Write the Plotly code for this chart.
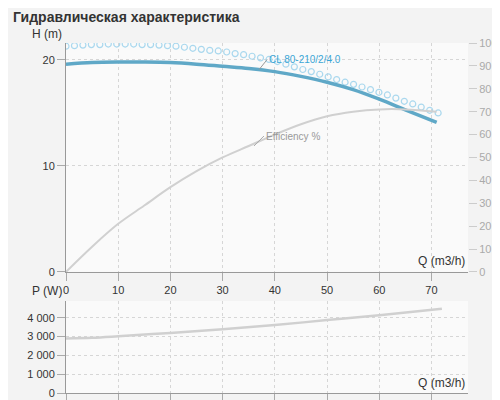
import plotly.graph_objects as go
import numpy as np

Q = [0, 5, 10, 15, 20, 25, 30, 35, 40, 45, 50, 55, 60, 65, 71]
head = [19.6, 19.75, 19.8, 19.8, 19.75, 19.6, 19.4, 19.2, 18.9, 18.45, 17.9, 17.2, 16.3, 15.3, 14.1]
eff = [0, 11, 21, 29, 37, 44, 50, 55, 60, 64.5, 68, 70, 71, 71, 70]
Q_pw = [0, 5, 10, 20, 30, 40, 50, 60, 72]
power = [2900, 2940, 3020, 3200, 3400, 3620, 3880, 4140, 4480]
Q_dot = list(np.arange(0, 71.5, 1.62))
dots = [21.3, 21.35, 21.4, 21.45, 21.45, 21.5, 21.5, 21.5, 21.5, 21.45, 21.45, 21.4, 21.35,
        21.3, 21.2, 21.1, 21.0, 20.9, 20.85, 20.75, 20.6, 20.5, 20.35, 20.2, 20.05, 19.85,
        19.6, 19.35, 19.1, 18.9, 18.65, 18.4, 18.15, 17.9, 17.7, 17.45, 17.2, 16.95, 16.7,
        16.4, 16.1, 15.85, 15.55, 15.25, 15.0]
dots = dots[:len(Q_dot)]

GRID = "#d6d6d6"
AX = dict(showgrid=True, gridcolor=GRID, griddash="dot", zeroline=False, automargin=False,
          ticks="outside", ticklen=8, tickcolor="#aaa", tickfont=dict(size=11, color="#333"))

fig = go.Figure()
fig.add_trace(go.Scatter(x=Q_dot, y=dots, mode="markers", xaxis="x", yaxis="y",
                         marker=dict(symbol="circle-open", size=6, color="#aad8ee", line=dict(width=1.2))))
fig.add_trace(go.Scatter(x=Q, y=eff, mode="lines", xaxis="x", yaxis="y2",
                         line=dict(color="#d0d0d0", width=2, shape="spline")))
fig.add_trace(go.Scatter(x=Q, y=head, mode="lines", xaxis="x", yaxis="y",
                         line=dict(color="#5fa8c7", width=3.5, shape="spline")))
fig.add_trace(go.Scatter(x=Q_pw, y=power, mode="lines", xaxis="x2", yaxis="y3",
                         line=dict(color="#d0d0d0", width=2.5, shape="spline")))

fig.update_layout(
    width=500, height=400, showlegend=False,
    margin=dict(l=58, r=40, t=35, b=15),
    paper_bgcolor="#f3f3f3", plot_bgcolor="#fafafa",
    font=dict(family="Liberation Sans, Arial", size=11, color="#333"),
    title=dict(text="<b>Гидравлическая характеристика</b>", x=0.01, y=0.99,
               font=dict(size=14, color="#333")),
    xaxis=dict(AX, range=[0, 77], domain=[0, 1], anchor="y", tickvals=list(range(0, 71, 10)),
               showline=True, linecolor="#999"),
    yaxis=dict(AX, range=[0, 21.6], domain=[0.346, 1], tickvals=[0, 10, 20],
               showline=True, linecolor="#999"),
    yaxis2=dict(AX, range=[0, 100], overlaying="y", side="right", showgrid=False,
                tickvals=list(range(0, 101, 10)), ticksuffix=" %", tickcolor="#ccc",
                tickfont=dict(size=11, color="#aaa")),
    xaxis2=dict(AX, range=[0, 77], domain=[0, 1], anchor="y3", tickvals=list(range(0, 71, 10)),
                showline=True, linecolor="#999"),
    yaxis3=dict(AX, range=[0, 4900], domain=[0, 0.263], tickvals=[0, 1000, 2000, 3000, 4000],
                ticktext=["0", "1 000", "2 000", "3 000", "4 000"], showline=True, linecolor="#999"),
    annotations=[
        dict(text="H (m)", xref="paper", yref="paper", x=-0.09, y=1.0, xanchor="left",
             yanchor="bottom", showarrow=False, font=dict(size=12)),
        dict(text="P (W)", xref="paper", yref="paper", x=-0.09, y=0.265, xanchor="left",
             yanchor="bottom", showarrow=False, font=dict(size=12)),
        dict(text="Q (m3/h)", x=72, y=0.2, xref="x", yref="y", xanchor="center",
             yanchor="bottom", showarrow=False, font=dict(size=12)),
        dict(text="Q (m3/h)", x=72, y=50, xref="x2", yref="y3", xanchor="center",
             yanchor="bottom", showarrow=False, font=dict(size=12)),
        dict(text="CL 80-210/2/4.0", x=37, y=19.1, xref="x", yref="y", ax=8, ay=-10,
             xanchor="left", showarrow=True, arrowhead=0, arrowcolor="#999", arrowwidth=1,
             font=dict(size=10, color="#3aa6d6")),
        dict(text="Efficiency %", x=36, y=55, xref="x", yref="y2", ax=10, ay=-10,
             xanchor="left", showarrow=True, arrowhead=0, arrowcolor="#aaa", arrowwidth=1,
             font=dict(size=10, color="#999")),
    ],
)

fig.write_html("out.html")
